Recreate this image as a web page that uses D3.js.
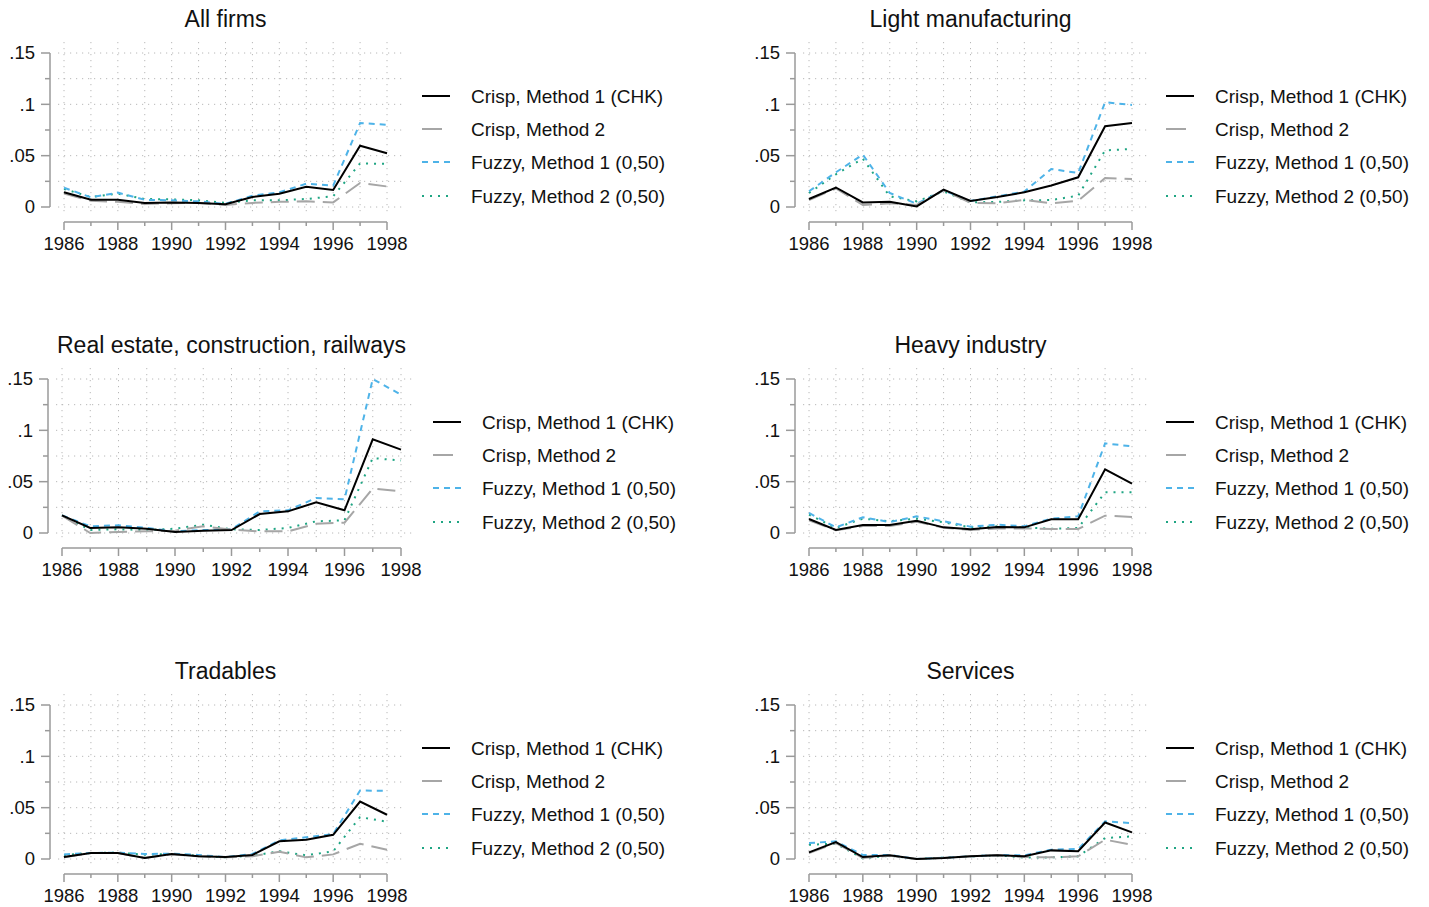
<!DOCTYPE html>
<html>
<head>
<meta charset="utf-8">
<script src="https://cdn.jsdelivr.net/npm/d3@7"></script>
<style>
  body { margin: 0; background: #fff; }
  svg { font-family: "Liberation Sans", Arial, Helvetica, sans-serif; }
  .grid { stroke: #b8b8b8; stroke-width: 1; stroke-dasharray: 1.2 4.8; fill: none; }
  .axis { stroke: #9a9a9a; stroke-width: 1.5; fill: none; }
  .tick-label { font-size: 18.5px; fill: #111; }
  .legend-label { font-size: 19px; fill: #111; }
  .title { font-size: 23px; fill: #111; }
</style>
</head>
<body>
<svg id="chart" width="1429" height="907"></svg>
<script>
(function() {
  var years = [1986, 1987, 1988, 1989, 1990, 1991, 1992, 1993, 1994, 1995, 1996, 1997, 1998];
  var yearLabels = [1986, 1988, 1990, 1992, 1994, 1996, 1998];
  var yTicks = [0, 0.05, 0.1, 0.15];
  var yTickLabels = ["0", ".05", ".1", ".15"];
  var yMinorTicks = [0.025, 0.075, 0.125];

  var titles = ["All firms", "Light manufacturing", "Real estate, construction, railways",
    "Heavy industry", "Tradables", "Services"];
  var seriesNames = ["Crisp, Method 1 (CHK)", "Crisp, Method 2", "Fuzzy, Method 1 (0,50)", "Fuzzy, Method 2 (0,50)"];

  // each panel: [crisp 1, crisp 2, fuzzy 1, fuzzy 2]
  var allFirms = [
    [.0143, .007, .007, .004, .0045, .004, .0026, .0097, .013, .0198, .0166, .0597, .0523],
    [.013, .006, .005, .003, .0036, .004, .002, .004, .005, .0055, .0045, .0234, .020],
    [.0188, .0094, .014, .007, .0065, .0055, .003, .011, .0143, .0227, .0208, .0818, .080],
    [.0175, .0097, .013, .0078, .0075, .0065, .004, .0065, .0065, .0078, .0104, .0425, .042]
  ];
  var lightManufacturing = [
    [.0078, .019, .0045, .005, .0006, .0169, .0058, .0097, .0143, .021, .0289, .0786, .0818],
    [.0068, .018, .002, .0036, .002, .0162, .004, .0036, .007, .0036, .006, .0282, .0273],
    [.0153, .0338, .051, .0136, .0032, .0162, .0058, .0104, .015, .037, .0331, .102, .0994],
    [.0136, .0318, .047, .0104, .0055, .0153, .0045, .005, .0065, .0068, .011, .0552, .0565]
  ];
  var realEstate = [
    [.0172, .0049, .0055, .0042, .001, .0023, .0029, .0185, .0211, .0299, .0221, .0912, .0812],
    [.0169, 0, .001, .0016, .0023, .0065, .0032, .0016, .0016, .0091, .010, .0432, .0406],
    [.0172, .0065, .0075, .0049, .0016, .0029, .0036, .0211, .0221, .0341, .0328, .150, .1347],
    [.0172, .0029, .0036, .0029, .0042, .0081, .0036, .0029, .0049, .0114, .0123, .073, .0705]
  ];
  var heavyIndustry = [
    [.0136, .0029, .0078, .0078, .012, .0055, .0036, .0058, .0055, .0133, .0133, .062, .048],
    [.0123, .0026, .0068, .0068, .011, .0052, .0029, .0045, .0045, .0039, .0039, .0169, .0156],
    [.0195, .0055, .0153, .0107, .0162, .0114, .0062, .0081, .0065, .014, .0162, .0873, .0844],
    [.0179, .0049, .014, .0114, .014, .0104, .0055, .0065, .0055, .0042, .0049, .0396, .0396]
  ];
  var tradables = [
    [.0019, .0058, .0058, .001, .0049, .0026, .0019, .0039, .0172, .0188, .0236, .056, .0431],
    [.0016, .0058, .0058, .001, .0045, .0026, .0016, .0026, .0071, .0016, .0045, .0149, .0091],
    [.0045, .0058, .0062, .0049, .0052, .0039, .0019, .0049, .0181, .0211, .0243, .0667, .0664],
    [.0039, .0058, .0062, .0042, .0049, .0032, .0016, .0032, .0075, .0036, .0075, .0408, .0363]
  ];
  var services = [
    [.0065, .0165, .0019, .0036, 0, .001, .0026, .0036, .0026, .0084, .0075, .0356, .0259],
    [.0058, .0155, .001, .0032, 0, .001, .0026, .0039, .0019, .0016, .0026, .0188, .0139],
    [.0155, .0172, .0039, .0039, 0, .0013, .0026, .0039, .0036, .0091, .0097, .0366, .035],
    [.0139, .0149, .0006, .0032, 0, .0013, .0026, .0036, .0013, .0016, .0026, .0204, .022]
  ];

  var STYLE = [
    { color: "#000000", dash: null },
    { color: "#a6a6a6", dash: "18 8" },
    { color: "#4eb3e8", dash: "6 5" },
    { color: "#1fa583", dash: "2 6" }
  ];

  var panels = [
    { title: titles[0], data: allFirms, x0: 64, x1: 387, y0: 207, legendX: 422 },
    { title: titles[1], data: lightManufacturing, x0: 809, x1: 1132, y0: 207, legendX: 1166 },
    { title: titles[2], data: realEstate, x0: 62, x1: 401, y0: 533, legendX: 433 },
    { title: titles[3], data: heavyIndustry, x0: 809, x1: 1132, y0: 533, legendX: 1166 },
    { title: titles[4], data: tradables, x0: 64, x1: 387, y0: 859, legendX: 422 },
    { title: titles[5], data: services, x0: 809, x1: 1132, y0: 859, legendX: 1166 }
  ];

  var svg = d3.select("#chart");

  panels.forEach(function(p) {
    var g = svg.append("g");
    var x = d3.scaleLinear().domain([1986, 1998]).range([p.x0, p.x1]);
    var y = d3.scaleLinear().domain([0, 0.15]).range([p.y0, p.y0 - 154]);
    var axisX = p.x0 - 14;
    var gridLeft = p.x0 - 6, gridRight = p.x1 + 15;
    var gridTop = y(0.15) - 11, gridBottom = y(0) + 8;

    // dotted grid
    g.selectAll("line.hgrid").data(yTicks.concat(yMinorTicks)).enter().append("line")
      .attr("class", "grid")
      .attr("x1", gridLeft).attr("x2", gridRight)
      .attr("y1", function(d) { return y(d); }).attr("y2", function(d) { return y(d); });
    g.selectAll("line.vgrid").data(years).enter().append("line")
      .attr("class", "grid")
      .attr("x1", function(d) { return x(d); }).attr("x2", function(d) { return x(d); })
      .attr("y1", gridTop).attr("y2", gridBottom);

    // y axis
    g.append("line").attr("class", "axis")
      .attr("x1", axisX).attr("x2", axisX).attr("y1", y(0.15)).attr("y2", y(0));
    g.selectAll("line.ytick").data(yTicks).enter().append("line").attr("class", "axis")
      .attr("x1", axisX - 9).attr("x2", axisX)
      .attr("y1", function(d) { return y(d); }).attr("y2", function(d) { return y(d); });
    g.selectAll("line.yminor").data(yMinorTicks).enter().append("line").attr("class", "axis")
      .attr("x1", axisX - 5).attr("x2", axisX)
      .attr("y1", function(d) { return y(d); }).attr("y2", function(d) { return y(d); });
    g.selectAll("text.ylab").data(yTicks).enter().append("text").attr("class", "tick-label")
      .attr("x", axisX - 15).attr("y", function(d) { return y(d); })
      .attr("dy", "0.35em").attr("text-anchor", "end")
      .text(function(d, i) { return yTickLabels[i]; });

    // x axis
    var axisY = p.y0 + 15;
    g.append("line").attr("class", "axis")
      .attr("x1", x(1986)).attr("x2", x(1998)).attr("y1", axisY).attr("y2", axisY);
    g.selectAll("line.xtick").data(years).enter().append("line").attr("class", "axis")
      .attr("x1", function(d) { return x(d); }).attr("x2", function(d) { return x(d); })
      .attr("y1", axisY).attr("y2", function(d) { return axisY + (yearLabels.indexOf(d) >= 0 ? 8 : 4); });
    g.selectAll("text.xlab").data(yearLabels).enter().append("text").attr("class", "tick-label")
      .attr("x", function(d) { return x(d); }).attr("y", p.y0 + 43)
      .attr("text-anchor", "middle")
      .text(function(d) { return d; });

    // title
    g.append("text").attr("class", "title")
      .attr("x", (p.x0 + p.x1) / 2).attr("y", p.y0 - 180)
      .attr("text-anchor", "middle").text(p.title);

    // series (drawn back to front)
    var line = d3.line().x(function(d, i) { return x(years[i]); }).y(function(d) { return y(d); });
    [3, 2, 1, 0].forEach(function(k) {
      g.append("path").datum(p.data[k])
        .attr("d", line)
        .attr("fill", "none")
        .attr("stroke", STYLE[k].color)
        .attr("stroke-width", 2)
        .attr("stroke-dasharray", STYLE[k].dash);
    });

    // legend
    var rowY = [-111, -78, -45, -11];
    var leg = g.selectAll("g.legend").data(seriesNames).enter().append("g")
      .attr("transform", function(d, i) { return "translate(" + p.legendX + "," + (p.y0 + rowY[i]) + ")"; });
    leg.append("line")
      .attr("x1", 0).attr("x2", 28).attr("y1", 0).attr("y2", 0)
      .attr("stroke", function(d, i) { return STYLE[i].color; })
      .attr("stroke-width", 2)
      .attr("stroke-dasharray", function(d, i) { return i === 1 ? "20 8" : STYLE[i].dash; });
    leg.append("text").attr("class", "legend-label")
      .attr("x", 49).attr("dy", "0.35em")
      .text(function(d) { return d; });
  });
}).call(this);
</script>
</body>
</html>
